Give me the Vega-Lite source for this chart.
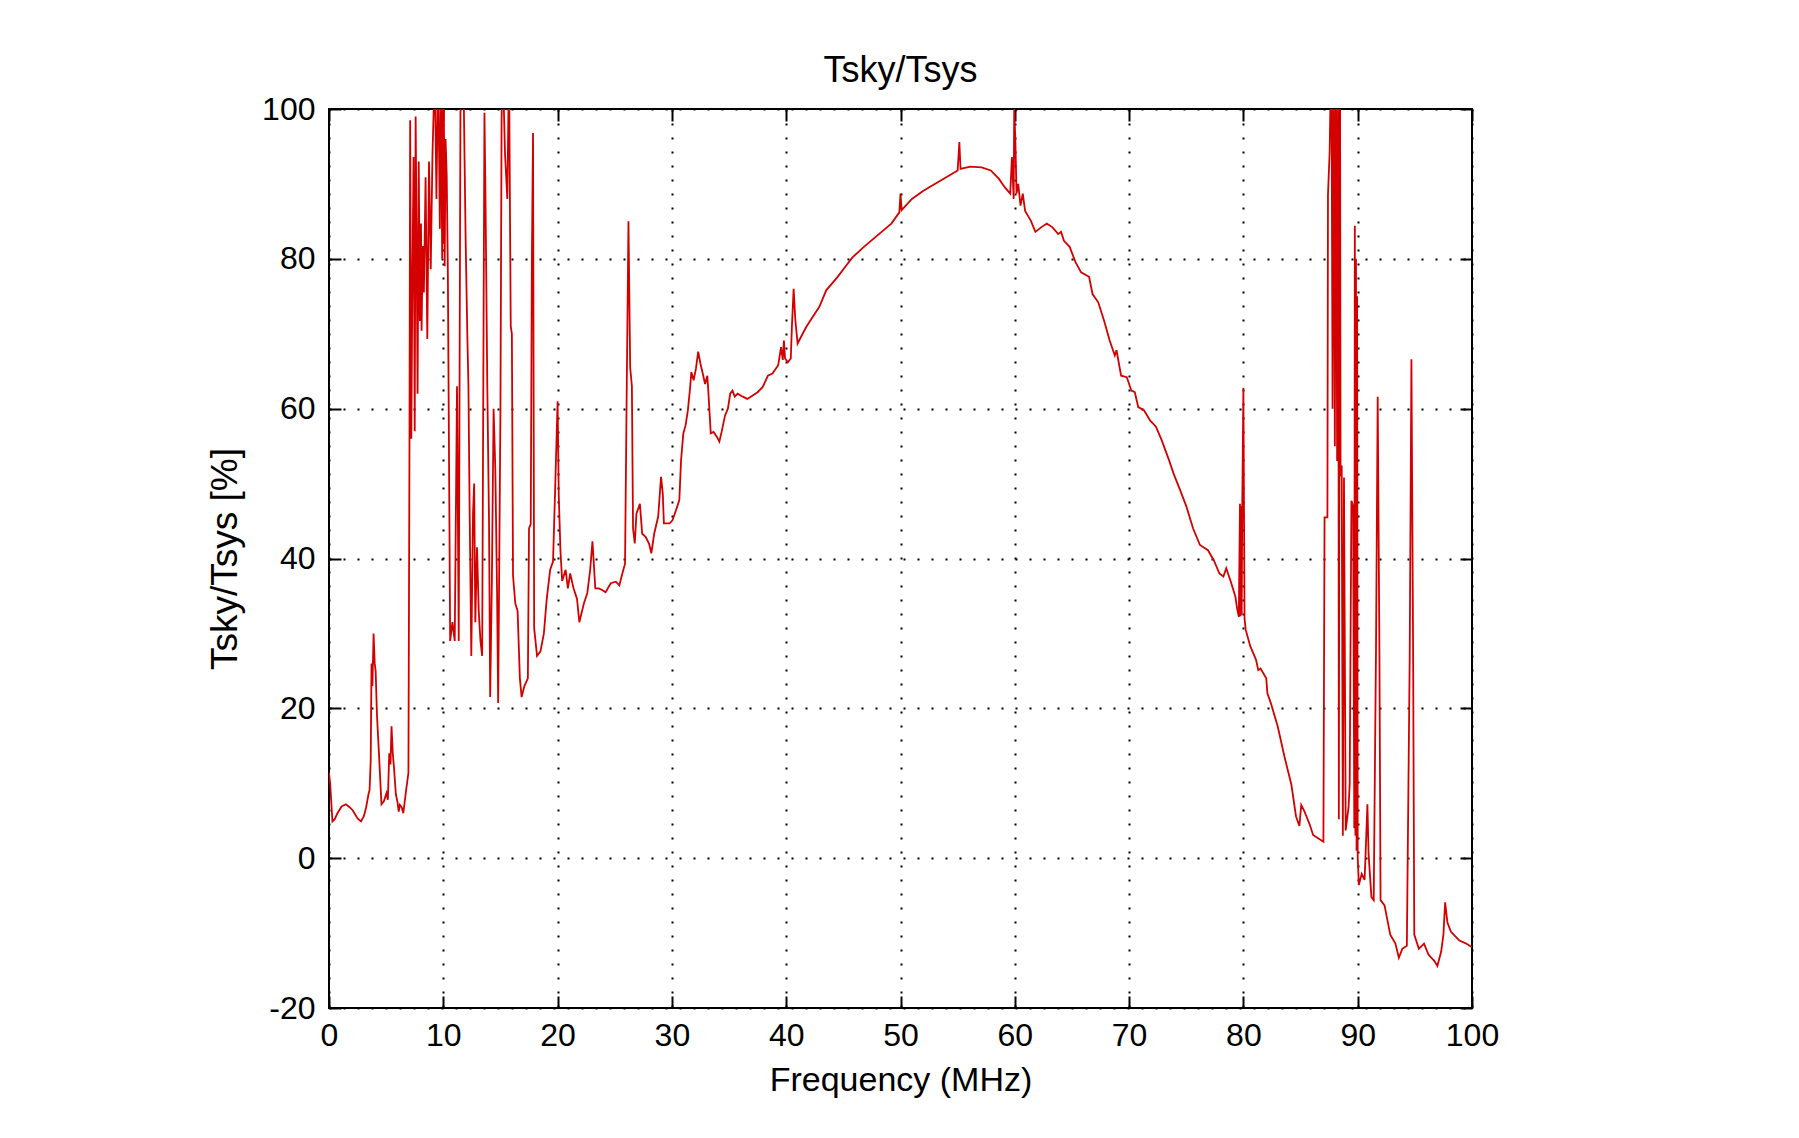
{
  "$schema": "https://vega.github.io/schema/vega-lite/v6.json",
  "width": 1143,
  "height": 899,
  "autosize": "none",
  "padding": {"left": 329, "top": 109, "right": 327, "bottom": 130},
  "background": "white",
  "title": {"text": "Tsky/Tsys", "fontSize": 36, "font": "Liberation Sans", "fontWeight": "normal", "color": "black", "offset": 3.5, "anchor": "middle"},
  "config": {
    "view": {"stroke": "black", "strokeWidth": 2},
    "font": "Liberation Sans"
  },
  "data": {"values": [
    {"f":0,"v":11.4},{"f":0.1,"v":10},{"f":0.3,"v":4.9},{"f":0.5,"v":5.2},{"f":0.74,"v":6},{"f":1.1,"v":6.9},{"f":1.48,"v":7.2},{"f":1.8,"v":6.8},{"f":2.07,"v":6.4},{"f":2.5,"v":5.3},{"f":2.8,"v":4.9},{"f":3.05,"v":5.6},{"f":3.25,"v":6.8},{"f":3.45,"v":8.5},{"f":3.55,"v":9.1},{"f":3.65,"v":13},{"f":3.72,"v":26},{"f":3.8,"v":23},{"f":3.9,"v":30},{"f":4.0,"v":26},{"f":4.08,"v":25},{"f":4.2,"v":19},{"f":4.38,"v":13.7},{"f":4.59,"v":7.2},{"f":4.8,"v":7.6},{"f":5.03,"v":8.7},{"f":5.15,"v":7.8},{"f":5.27,"v":14},{"f":5.38,"v":12.5},{"f":5.47,"v":17.6},{"f":5.58,"v":14},{"f":5.68,"v":12.2},{"f":5.85,"v":8.5},{"f":5.98,"v":7.6},{"f":6.1,"v":6.2},{"f":6.2,"v":7.1},{"f":6.36,"v":6.8},{"f":6.5,"v":6},{"f":6.75,"v":9.1},{"f":6.95,"v":11.4},
    {"f":7.04,"v":55},{"f":7.1,"v":98.5},{"f":7.2,"v":56},{"f":7.3,"v":78},{"f":7.4,"v":93.6},{"f":7.5,"v":57},{"f":7.58,"v":99},{"f":7.65,"v":85.6},{"f":7.75,"v":62},{"f":7.85,"v":93},{"f":7.95,"v":71.7},{"f":8.05,"v":84.7},{"f":8.1,"v":70.4},{"f":8.2,"v":81.7},{"f":8.3,"v":75.5},{"f":8.45,"v":90.9},{"f":8.6,"v":69.3},{"f":8.75,"v":93},{"f":8.9,"v":78.6},{"f":9.05,"v":93.6},{"f":9.15,"v":99.5},{"f":9.25,"v":106},{"f":9.4,"v":88},{"f":9.55,"v":106},{"f":9.7,"v":84},{"f":9.8,"v":106},{"f":9.9,"v":80},{"f":9.95,"v":104},{"f":10.0,"v":82},{"f":10.05,"v":100},{"f":10.12,"v":79},{"f":10.2,"v":96},{"f":10.3,"v":91},{"f":10.4,"v":78},{"f":10.6,"v":29},{"f":10.8,"v":31.5},{"f":11.0,"v":29},{"f":11.2,"v":63},{"f":11.35,"v":29},{"f":11.5,"v":99.5},{"f":11.75,"v":106},{"f":11.95,"v":83},{"f":12.1,"v":70},{"f":12.2,"v":63},{"f":12.3,"v":47},{"f":12.45,"v":27},{"f":12.6,"v":46},{"f":12.7,"v":50},{"f":12.8,"v":31.5},{"f":12.95,"v":41.5},{"f":13.1,"v":33},{"f":13.25,"v":29},{"f":13.4,"v":27},{"f":13.5,"v":63},{"f":13.6,"v":99.5},{"f":13.7,"v":87},{"f":13.85,"v":63},{"f":14.0,"v":45},{"f":14.1,"v":21.5},{"f":14.25,"v":37},{"f":14.4,"v":60},{"f":14.55,"v":52},{"f":14.7,"v":36},{"f":14.8,"v":20.7},{"f":15.0,"v":60},{"f":15.1,"v":98.7},{"f":15.2,"v":106},{"f":15.4,"v":94},{"f":15.6,"v":88},{"f":15.75,"v":106},{"f":15.9,"v":71},{"f":16.0,"v":70},{"f":16.1,"v":37.7},{"f":16.3,"v":34},{"f":16.5,"v":33},{"f":16.7,"v":24},{"f":16.85,"v":21.5},{"f":17.1,"v":23},{"f":17.4,"v":24},{"f":17.5,"v":44},{"f":17.65,"v":44.6},{"f":17.75,"v":80},{"f":17.85,"v":96.8},{"f":17.95,"v":30.7},{"f":18.2,"v":27},{"f":18.5,"v":27.6},{"f":18.8,"v":30},{"f":19.05,"v":34.6},{"f":19.35,"v":38.5},{"f":19.6,"v":39.6},{"f":19.8,"v":50},{"f":20.0,"v":61},{"f":20.1,"v":48.5},{"f":20.25,"v":41},{"f":20.4,"v":37},{"f":20.7,"v":38.5},{"f":20.9,"v":36},{"f":21.1,"v":38},{"f":21.4,"v":36},{"f":21.7,"v":34.6},{"f":21.9,"v":31.5},{"f":22.3,"v":34},{"f":22.6,"v":35.4},{"f":22.85,"v":38.5},{"f":23.05,"v":42.3},{"f":23.3,"v":36},{"f":23.6,"v":36},{"f":23.9,"v":35.8},{"f":24.2,"v":35.5},{"f":24.65,"v":36.7},{"f":25.1,"v":36.9},{"f":25.4,"v":36.4},{"f":25.7,"v":38.2},{"f":25.9,"v":39.3},
    {"f":26.05,"v":62.9},{"f":26.2,"v":85},{"f":26.35,"v":65.5},{"f":26.5,"v":63},{"f":26.6,"v":44},{"f":26.75,"v":42},{"f":26.9,"v":46},{"f":27.2,"v":47.3},{"f":27.4,"v":43.3},{"f":27.7,"v":42.9},{"f":28.0,"v":42},{"f":28.2,"v":40.7},{"f":28.45,"v":43.3},{"f":28.8,"v":45.6},{"f":29.05,"v":50.9},{"f":29.2,"v":48.7},{"f":29.3,"v":44.7},{"f":29.8,"v":44.7},{"f":30.05,"v":45.1},{"f":30.35,"v":46.4},{"f":30.65,"v":47.8},{"f":30.8,"v":53.1},{"f":31.0,"v":56.7},{"f":31.2,"v":57.8},{"f":31.4,"v":59.8},{"f":31.6,"v":62.9},{"f":31.7,"v":64.9},{"f":31.9,"v":63.8},{"f":32.1,"v":65.3},{"f":32.3,"v":67.6},{"f":32.5,"v":66},{"f":32.7,"v":64.7},{"f":32.9,"v":63.3},{"f":33.1,"v":64.4},{"f":33.2,"v":62},{"f":33.4,"v":56.7},{"f":33.65,"v":56.9},{"f":33.95,"v":56.2},{"f":34.15,"v":55.6},{"f":34.35,"v":56.9},{"f":34.65,"v":59.1},{"f":34.9,"v":60},{"f":35.1,"v":62},{"f":35.3,"v":62.4},{"f":35.5,"v":61.6},{"f":35.75,"v":62},{"f":36.2,"v":61.6},{"f":36.6,"v":61.3},{"f":37.1,"v":61.8},{"f":37.5,"v":62.2},{"f":37.95,"v":62.9},{"f":38.4,"v":64.4},{"f":38.8,"v":64.7},{"f":39.3,"v":65.8},{"f":39.55,"v":68.2},{"f":39.7,"v":66.5},{"f":39.8,"v":69.1},{"f":39.9,"v":66.7},{"f":40.15,"v":66.2},{"f":40.4,"v":66.7},{"f":40.5,"v":71},{"f":40.65,"v":76},{"f":40.8,"v":71.8},{"f":41.0,"v":68.7},{"f":41.3,"v":69.6},{"f":41.75,"v":70.9},{"f":42.3,"v":72.2},{"f":42.9,"v":73.6},{"f":43.5,"v":75.8},{"f":44.5,"v":77.6},{"f":45.2,"v":79},{"f":45.8,"v":80.2},{"f":46.8,"v":81.6},{"f":47.8,"v":82.9},{"f":48.5,"v":83.8},{"f":49.2,"v":84.7},{"f":49.9,"v":86.2},{"f":50.0,"v":88.7},{"f":50.1,"v":86.5},{"f":51.0,"v":88},{"f":52.0,"v":89.1},{"f":53.0,"v":90},{"f":54.0,"v":90.9},{"f":55.0,"v":91.8},{"f":55.15,"v":95.6},{"f":55.25,"v":92},{"f":56.1,"v":92.3},{"f":57.1,"v":92.2},{"f":57.9,"v":91.8},{"f":58.6,"v":90.7},{"f":59.1,"v":89.6},{"f":59.6,"v":88.7},{"f":59.75,"v":93.6},{"f":59.9,"v":88},{"f":59.95,"v":100},{"f":60.05,"v":95.8},{"f":60.15,"v":88.7},{"f":60.3,"v":90},{"f":60.5,"v":87.1},{"f":60.7,"v":88.7},{"f":60.9,"v":86.4},{"f":61.4,"v":85.1},{"f":61.8,"v":83.6},{"f":62.3,"v":84.2},{"f":62.8,"v":84.7},{"f":63.3,"v":84.2},{"f":63.8,"v":83.3},{"f":64.05,"v":83.6},{"f":64.3,"v":82.4},{"f":64.8,"v":81.6},{"f":65.3,"v":79.6},{"f":65.8,"v":78.2},{"f":66.5,"v":77.6},{"f":66.8,"v":75.3},{"f":67.3,"v":74.2},{"f":67.8,"v":71.8},{"f":68.3,"v":69.1},{"f":68.75,"v":67.1},{"f":68.9,"v":67.8},{"f":69.3,"v":64.4},{"f":69.8,"v":64.2},{"f":70.2,"v":62.4},{"f":70.5,"v":62.2},{"f":70.8,"v":60.2},{"f":71.3,"v":59.8},{"f":71.85,"v":58.4},{"f":72.35,"v":57.6},{"f":72.85,"v":55.8},{"f":73.5,"v":53.1},{"f":73.9,"v":51.3},{"f":74.5,"v":49},{"f":75.0,"v":47},{"f":75.6,"v":44},{"f":76.2,"v":41.8},{"f":76.9,"v":41.1},{"f":77.4,"v":39.8},{"f":77.9,"v":38},{"f":78.25,"v":37.6},{"f":78.5,"v":38.7},{"f":78.9,"v":36.9},{"f":79.3,"v":34.9},{"f":79.45,"v":33.3},{"f":79.6,"v":32.2},{"f":79.7,"v":47.3},{"f":79.75,"v":32.3},{"f":79.8,"v":47},{"f":79.85,"v":32.5},{"f":79.9,"v":46.9},{"f":80.0,"v":62.8},{"f":80.05,"v":47},{"f":80.1,"v":32},{"f":80.2,"v":30.5},{"f":80.6,"v":28.3},{"f":81.1,"v":26.5},{"f":81.3,"v":25.1},{"f":81.5,"v":25.3},{"f":82.0,"v":24},{"f":82.1,"v":22},{"f":82.4,"v":20.7},{"f":83.0,"v":17.6},{"f":83.6,"v":13.5},{"f":84.2,"v":9.8},{"f":84.6,"v":5.6},{"f":84.9,"v":4.3},{"f":85.06,"v":7.1},{"f":85.35,"v":6.2},{"f":85.8,"v":4.5},{"f":86.1,"v":3.1},{"f":86.5,"v":2.7},{"f":87.0,"v":2.2},
    {"f":87.1,"v":45.5},{"f":87.35,"v":45.5},{"f":87.4,"v":88.6},{"f":87.55,"v":94.4},{"f":87.7,"v":110},{"f":87.8,"v":60},{"f":87.9,"v":110},{"f":88.0,"v":55},{"f":88.1,"v":110},{"f":88.2,"v":53},{"f":88.3,"v":110},{"f":88.35,"v":5.2},{"f":88.45,"v":110},{"f":88.5,"v":51},{"f":88.6,"v":52.4},{"f":88.7,"v":3},{"f":88.8,"v":50.8},{"f":88.95,"v":3.7},{"f":89.2,"v":6.8},{"f":89.3,"v":9.9},{"f":89.45,"v":47.7},{"f":89.6,"v":47},{"f":89.7,"v":4},{"f":89.75,"v":84.4},{"f":89.8,"v":3},{"f":89.85,"v":80},{"f":89.9,"v":1},{"f":89.95,"v":75},{"f":90.0,"v":0.2},{"f":90.1,"v":-3.6},{"f":90.35,"v":-2.1},{"f":90.6,"v":-2.9},{"f":90.7,"v":1},{"f":90.85,"v":7.2},{"f":90.95,"v":0.6},{"f":91.2,"v":-5.2},{"f":91.4,"v":-5.6},{"f":91.6,"v":27.6},{"f":91.75,"v":61.6},{"f":91.9,"v":27.6},{"f":92.0,"v":-5.6},{"f":92.35,"v":-6.3},{"f":92.55,"v":-7.9},{"f":92.85,"v":-10.2},{"f":93.3,"v":-11.4},{"f":93.6,"v":-13.3},{"f":93.9,"v":-12.1},{"f":94.3,"v":-11.7},{"f":94.55,"v":26.9},{"f":94.7,"v":66.6},{"f":94.85,"v":26.9},{"f":94.95,"v":-10.2},{"f":95.35,"v":-12.1},{"f":95.8,"v":-11.4},{"f":96.2,"v":-12.9},{"f":96.7,"v":-13.7},{"f":96.97,"v":-14.4},{"f":97.3,"v":-12.5},{"f":97.5,"v":-10.2},{"f":97.65,"v":-5.9},{"f":97.85,"v":-8.6},{"f":98.15,"v":-9.8},{"f":98.4,"v":-10.2},{"f":98.9,"v":-11},{"f":99.5,"v":-11.4},{"f":100,"v":-11.9}
  ]},
  "layer": [
    {
      "mark": {"type": "line", "color": "#d40000", "strokeWidth": 1.8, "clip": true},
      "encoding": {
        "x": {"field": "f", "type": "quantitative", "sort": null,
          "scale": {"domain": [0, 100], "nice": false, "zero": false},
          "axis": {"orient": "bottom", "values": [0,10,20,30,40,50,60,70,80,90,100], "title": "Frequency (MHz)",
            "grid": true, "gridDash": [2, 12], "gridColor": "black", "gridWidth": 2, "gridOpacity": 1,
            "domain": false, "ticks": true, "tickSize": -12, "tickWidth": 2, "tickColor": "black",
            "labelPadding": 24, "labelFontSize": 32, "labelFont": "Liberation Sans", "labelColor": "black", "labelFlush": false, "labelOverlap": false,
            "labelExpr": "'' + datum.value",
            "titleFontSize": 34, "titleFont": "Liberation Sans", "titleFontWeight": "normal", "titleColor": "black", "titlePadding": 12}},
        "y": {"field": "v", "type": "quantitative",
          "scale": {"domain": [-20, 100], "nice": false, "zero": false},
          "axis": {"orient": "left", "values": [-20,0,20,40,60,80,100], "title": "Tsky/Tsys [%]",
            "grid": true, "gridDash": [2, 12], "gridColor": "black", "gridWidth": 2, "gridOpacity": 1,
            "domain": false, "ticks": true, "tickSize": -12, "tickWidth": 2, "tickColor": "black",
            "labelPadding": 26, "labelFontSize": 32, "labelFont": "Liberation Sans", "labelColor": "black", "labelFlush": false, "labelOverlap": false,
            "labelExpr": "'' + datum.value",
            "titleFontSize": 37, "titleFont": "Liberation Sans", "titleFontWeight": "normal", "titleColor": "black", "titlePadding": 17}},
        "order": {"field": "f", "type": "quantitative"}
      }
    },
    {
      "mark": {"type": "line", "strokeOpacity": 0, "clip": true},
      "encoding": {
        "x": {"field": "f", "type": "quantitative",
          "axis": {"orient": "top", "values": [0,10,20,30,40,50,60,70,80,90,100], "title": null, "labels": false, "grid": false,
            "domain": false, "ticks": true, "tickSize": -12, "tickWidth": 2, "tickColor": "black"}},
        "y": {"field": "v", "type": "quantitative",
          "axis": {"orient": "right", "values": [-20,0,20,40,60,80,100], "title": null, "labels": false, "grid": false,
            "domain": false, "ticks": true, "tickSize": -12, "tickWidth": 2, "tickColor": "black"}},
        "order": {"field": "f", "type": "quantitative"}
      }
    }
  ],
  "resolve": {"axis": {"x": "independent", "y": "independent"}}
}
